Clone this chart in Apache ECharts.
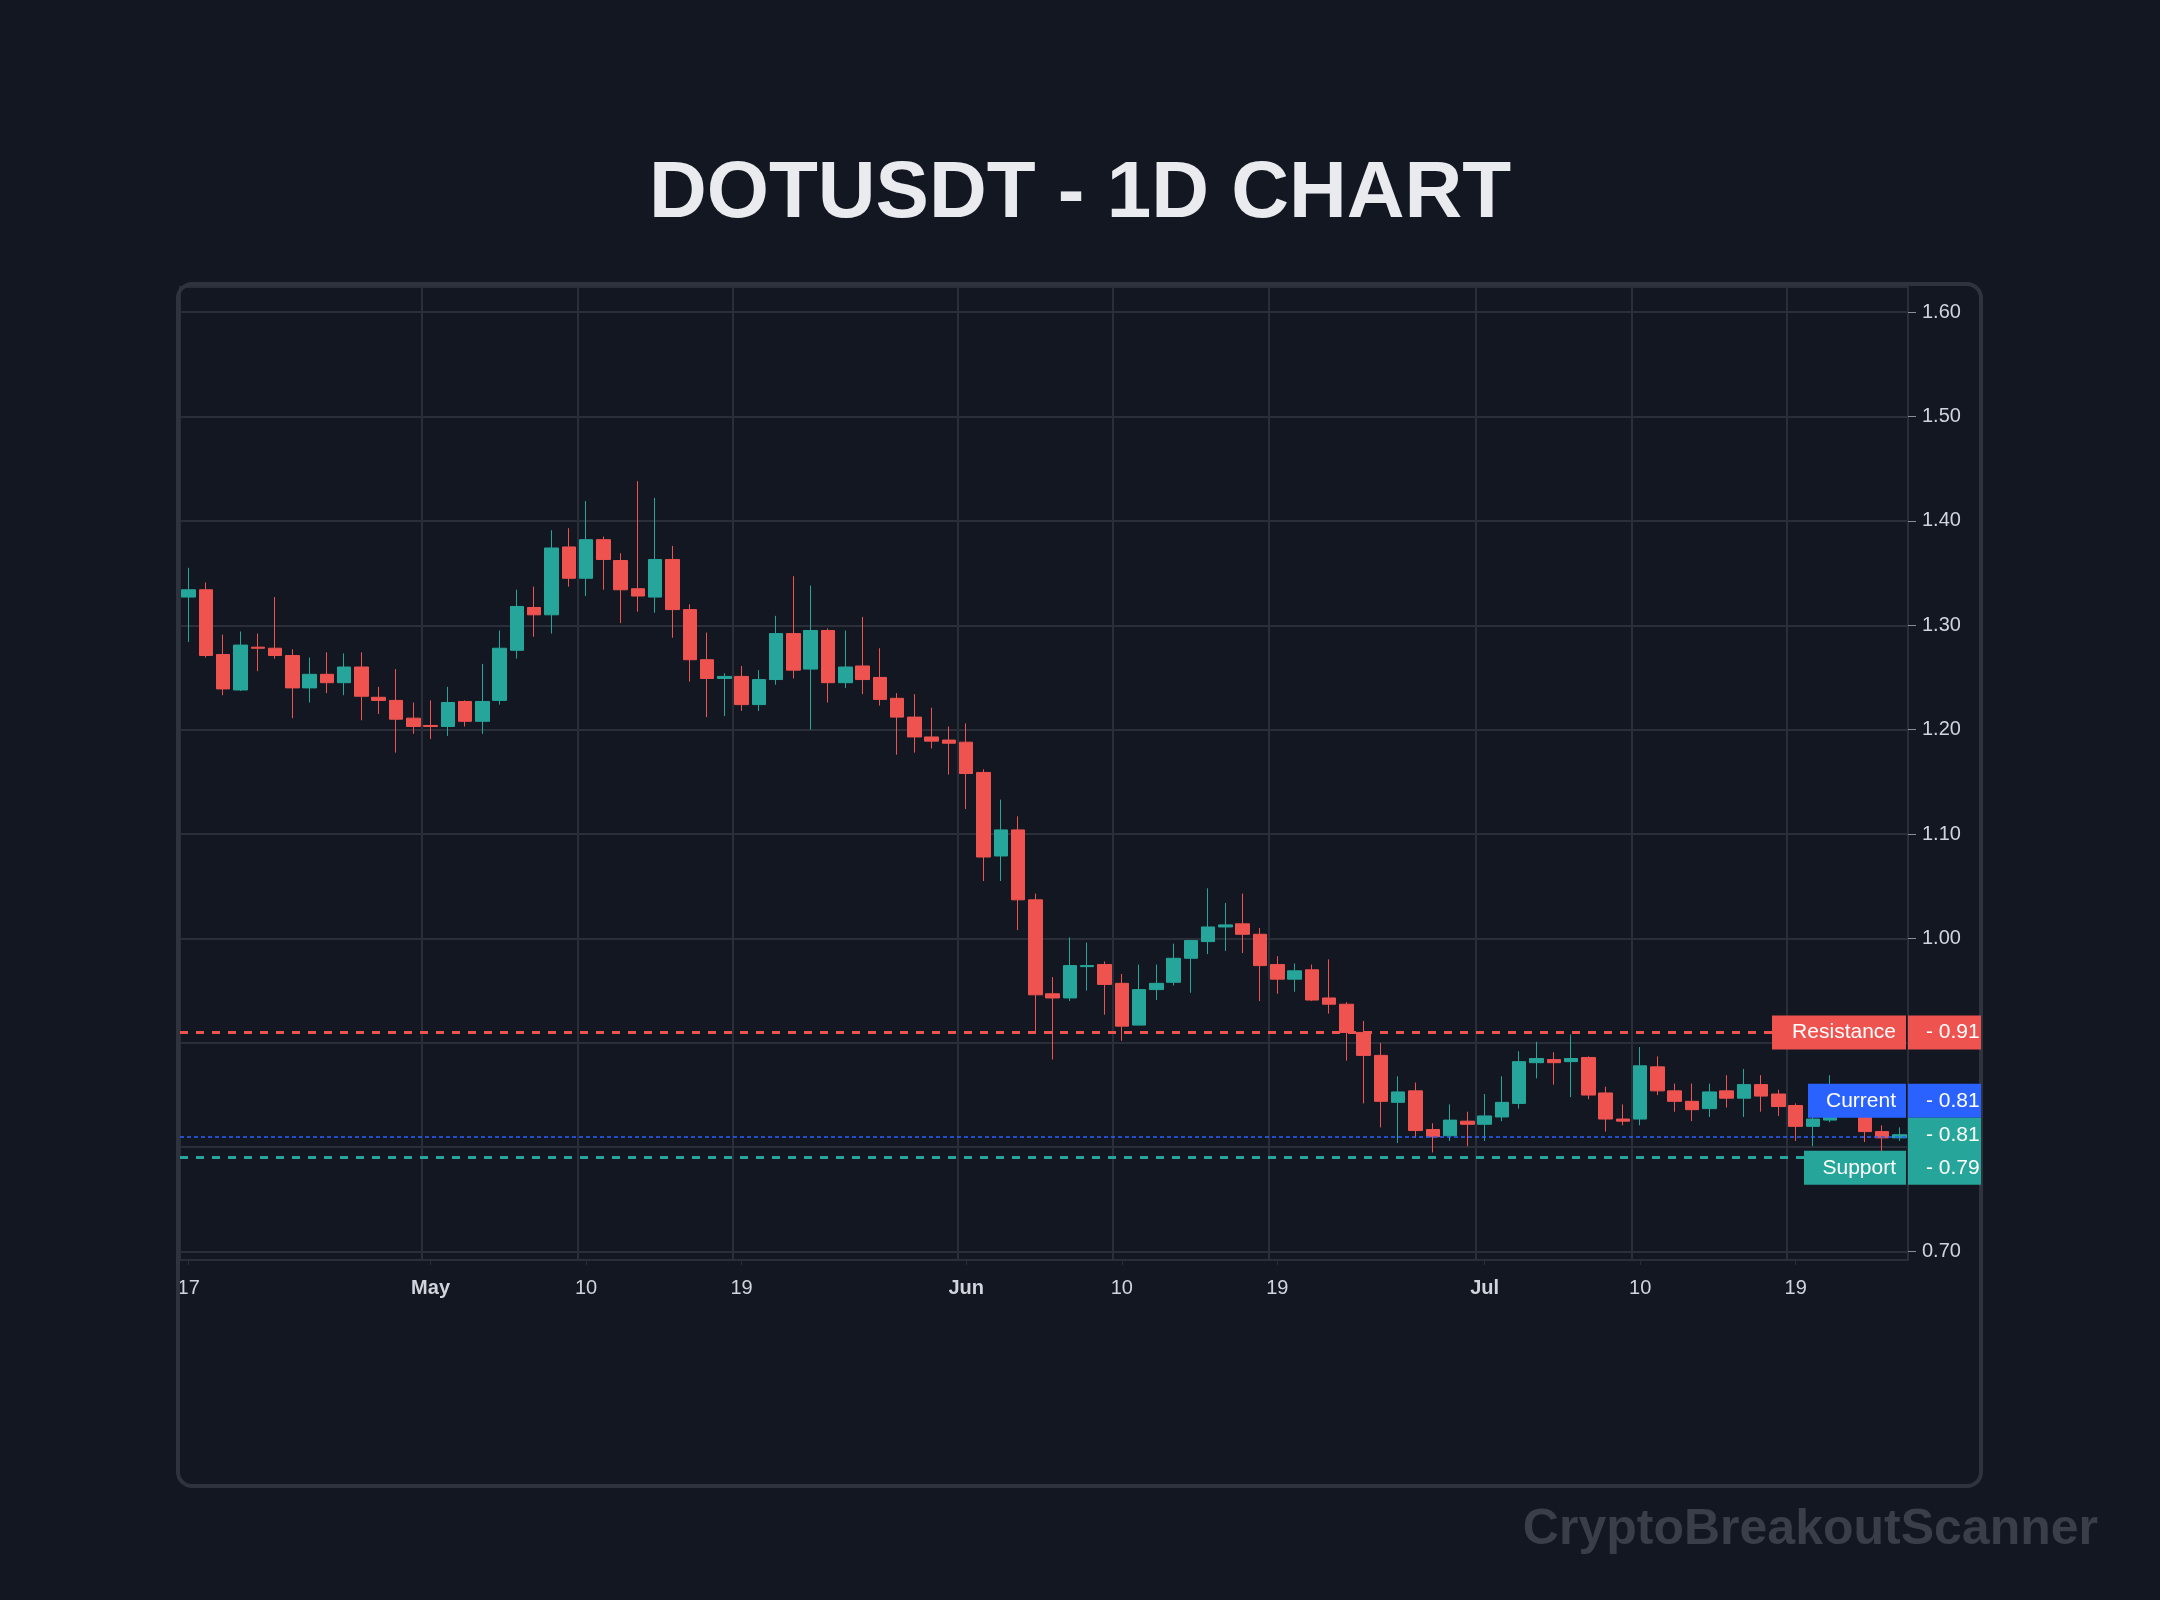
<!DOCTYPE html>
<html><head><meta charset="utf-8">
<script src="https://cdn.jsdelivr.net/npm/echarts@6/dist/echarts.min.js"></script>
<style>html,body{margin:0;background:#131722;}#c{width:2160px;height:1600px;}</style>
</head><body><div id="c"></div>
<script>
const startDate = [2025, 3, 17]; // Apr 17
// [open, close, low, high]
const opens  = [1.327,1.334,1.272,1.238,1.279,1.278,1.271,1.240,1.253,1.245,1.260,1.231,1.228,1.211,1.204,1.203,1.227,1.208,1.228,1.276,1.317,1.310,1.375,1.345,1.382,1.362,1.335,1.327,1.363,1.315,1.267,1.249,1.251,1.224,
1.248,1.292,1.258,1.295,1.245,1.261,1.250,1.230,1.212,1.193,1.190,1.188,1.159,1.079,1.104,1.037,0.947,0.943,0.973,0.975,0.957,0.917,0.951,0.958,0.981,0.997,1.011,1.014,1.004,0.975,0.961,0.970,0.943,
0.937,0.910,0.888,0.843,0.854,0.817,0.811,0.825,0.822,0.829,0.842,0.881,0.884,0.882,0.886,0.852,0.827,0.827,0.877,0.854,0.844,0.837,0.854,0.847,0.860,0.851,0.840,0.820,0.826,0.848,0.836,0.815,0.809];
const closes = [1.334,1.271,1.239,1.281,1.278,1.271,1.240,1.253,1.245,1.260,1.232,1.228,1.210,1.203,1.203,1.226,1.208,1.227,1.278,1.318,1.310,1.374,1.345,1.382,1.363,1.334,1.328,1.363,1.315,1.267,1.249,1.251,1.224,1.248,
1.292,1.257,1.295,1.245,1.260,1.248,1.229,1.212,1.193,1.189,1.187,1.158,1.078,1.104,1.037,0.946,0.943,0.974,0.974,0.956,0.916,0.951,0.957,0.981,0.998,1.011,1.013,1.004,0.974,0.961,0.969,0.941,0.937,
0.910,0.888,0.844,0.853,0.816,0.810,0.826,0.822,0.830,0.843,0.882,0.885,0.881,0.885,0.850,0.827,0.825,0.878,0.854,0.844,0.836,0.853,0.847,0.860,0.849,0.839,0.820,0.827,0.848,0.836,0.815,0.809,0.812];
const lows   = [1.284,1.269,1.233,1.237,1.256,1.268,1.211,1.226,1.235,1.233,1.209,1.215,1.178,1.196,1.191,1.194,1.203,1.196,1.224,1.268,1.289,1.292,1.337,1.328,1.334,1.302,1.313,1.312,1.288,1.246,1.212,1.213,1.218,1.218,
1.243,1.249,1.200,1.226,1.240,1.234,1.223,1.176,1.178,1.182,1.157,1.124,1.055,1.055,1.008,0.909,0.884,0.940,0.950,0.927,0.902,0.917,0.941,0.955,0.948,0.985,0.988,0.986,0.940,0.947,0.949,0.940,0.928,
0.883,0.842,0.819,0.804,0.809,0.795,0.806,0.801,0.806,0.825,0.837,0.866,0.860,0.848,0.846,0.815,0.821,0.821,0.850,0.834,0.825,0.829,0.838,0.829,0.834,0.830,0.806,0.801,0.824,0.830,0.805,0.788,0.806];
const highs  = [1.355,1.341,1.291,1.294,1.292,1.327,1.277,1.269,1.274,1.273,1.274,1.241,1.258,1.226,1.228,1.241,1.228,1.263,1.295,1.334,1.337,1.391,1.393,1.419,1.385,1.369,1.438,1.422,1.376,1.320,1.293,1.254,1.261,1.257,
1.309,1.347,1.338,1.297,1.295,1.308,1.278,1.235,1.234,1.221,1.203,1.206,1.162,1.133,1.117,1.043,0.963,1.001,0.996,0.978,0.966,0.975,0.975,0.995,0.998,1.048,1.034,1.043,1.010,0.983,0.976,0.975,0.980,
0.939,0.921,0.900,0.868,0.862,0.823,0.841,0.834,0.851,0.868,0.892,0.901,0.891,0.908,0.887,0.858,0.841,0.896,0.887,0.861,0.861,0.861,0.869,0.875,0.869,0.855,0.842,0.833,0.869,0.859,0.842,0.821,0.819];
const yTicks = [0.70,0.80,0.90,1.00,1.10,1.20,1.30,1.40,1.50,1.60];
const yLabels = [0.70,1.00,1.10,1.20,1.30,1.40,1.50,1.60];
const xTickIdx = [0,14,23,32,45,54,63,75,84,93];
const resistance = 0.91, support = 0.79, current = 0.81;

const months = ['Jan','Feb','Mar','Apr','May','Jun','Jul','Aug','Sep','Oct','Nov','Dec'];
const cats = [];
for (let i = 0; i < opens.length; i++) {
  const d = new Date(Date.UTC(startDate[0], startDate[1], startDate[2] + i));
  cats.push(d.getUTCDate() === 1 ? '{b|' + months[d.getUTCMonth()] + '}' : String(d.getUTCDate()));
}
const ohlc = opens.map((o, i) => [o, closes[i], lows[i], highs[i]]);
const isTick = (i) => xTickIdx.indexOf(i) >= 0;

const UP = '#26a69a', DOWN = '#ef5350', GRIDC = '#2a2e39';
const chart = echarts.init(document.getElementById('c'));
const gridL = 180, gridR = 2160 - 1908, gridT = 287, gridB = 1600 - 1260;
chart.setOption({
  backgroundColor: '#131722',
  animation: false,
  title: { text: 'DOTUSDT - 1D CHART', left: 'center', top: 150,
    textStyle: { color: '#e9ebef', fontSize: 80, fontWeight: 'bold', fontFamily: 'Liberation Sans, Arial' } },
  grid: { left: gridL, right: gridR, top: gridT, bottom: gridB, show: true, borderColor: GRIDC, borderWidth: 2 },
  xAxis: { type: 'category', data: cats, boundaryGap: true,
    axisLine: { lineStyle: { color: GRIDC, width: 2 } },
    axisTick: { show: true, alignWithLabel: true, interval: (i) => isTick(i), lineStyle: { color: GRIDC } },
    axisLabel: { interval: (i) => isTick(i), color: '#d1d4dc', fontSize: 20, margin: 18, fontFamily: 'Liberation Sans, Arial',
      rich: { b: { fontWeight: 'bold', fontSize: 20, color: '#d1d4dc' } } },
    splitLine: { show: true, interval: (i) => isTick(i), lineStyle: { color: GRIDC, width: 2 } } },
  yAxis: { type: 'value', position: 'right', min: 0.692, max: 1.624, scale: true,
    axisLine: { show: true, lineStyle: { color: GRIDC, width: 2 } },
    axisTick: { show: true, customValues: yTicks, lineStyle: { color: '#8a8e99' }, length: 8 },
    axisLabel: { customValues: yLabels, color: '#d1d4dc', fontSize: 20, margin: 14, fontFamily: 'Liberation Sans, Arial',
      formatter: (v) => v.toFixed(2) },
    splitLine: { show: true, lineStyle: { color: GRIDC, width: 2 } } },
  series: [{
    type: 'candlestick', data: ohlc, barWidth: 14,
    itemStyle: { color: UP, color0: DOWN, borderColor: UP, borderColor0: DOWN, borderWidth: 1 },
    markLine: { symbol: 'none', silent: true, label: { show: false },
      data: [
        { yAxis: resistance, lineStyle: { color: DOWN, type: [8, 8], width: 3 } },
        { yAxis: support, lineStyle: { color: UP, type: [8, 8], width: 3 } },
        { yAxis: current, lineStyle: { color: '#2962ff', type: [4, 3], width: 1.5 } }
      ] }
  }]
});

const py = (v) => chart.convertToPixel({ yAxisIndex: 0 }, v);
const lastY = py(closes[closes.length - 1]);
const tags = [
  { name: 'Resistance', val: resistance.toFixed(2), y: py(resistance), c: DOWN, w: 134 },
  { name: 'Current', val: current.toFixed(2), y: lastY - 34, c: '#2962ff', w: 98 },
  { name: null, val: closes[closes.length - 1].toFixed(2), y: lastY, c: UP, w: 0 },
  { name: 'Support', val: support.toFixed(2), y: lastY + 33, c: UP, w: 102 }
];
const g = [{ type: 'rect', shape: { x: 178, y: 284, width: 1803, height: 1202, r: 14 },
  style: { fill: 'none', stroke: '#2f333d', lineWidth: 4 }, z: 1 },
  { type: 'text', right: 62, top: 1505, style: { text: 'CryptoBreakoutScanner', fill: '#3a3e48', fontSize: 50, fontWeight: 'bold', fontFamily: 'Liberation Sans, Arial' } }];
const H = 34;
tags.forEach(t => {
  if (t.name) {
    g.push({ type: 'rect', z: 50, shape: { x: 1906 - t.w, y: t.y - H/2, width: t.w, height: H }, style: { fill: t.c } });
    g.push({ type: 'text', z: 51, x: 1906 - 10, y: t.y, style: { text: t.name, fill: '#fff', fontSize: 21, align: 'right', verticalAlign: 'middle', fontFamily: 'Liberation Sans, Arial' } });
  }
  g.push({ type: 'rect', z: 50, shape: { x: 1908, y: t.y - H/2, width: 73, height: H }, style: { fill: t.c } });
  g.push({ type: 'text', z: 51, x: 1926, y: t.y, style: { text: '- ' + t.val, fill: '#fff', fontSize: 21, align: 'left', verticalAlign: 'middle', fontFamily: 'Liberation Sans, Arial' } });
});
chart.setOption({ graphic: g });
</script></body></html>
